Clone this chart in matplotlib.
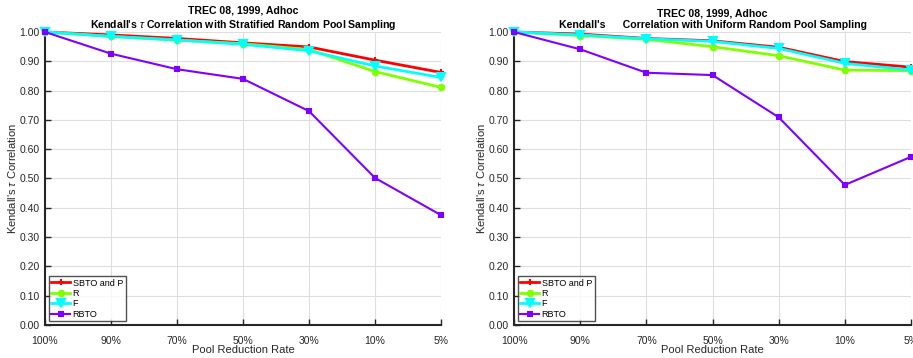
import matplotlib
matplotlib.use("Agg")
import matplotlib.pyplot as plt

plt.rcParams["font.family"] = ["Liberation Sans", "DejaVu Sans"]
plt.rcParams["mathtext.fontset"] = "custom"
plt.rcParams["mathtext.it"] = "Liberation Sans:italic"

rates = ["100%", "90%", "70%", "50%", "30%", "10%", "5%"]
y_ticks = [0.0, 0.1, 0.2, 0.3, 0.4, 0.5, 0.6, 0.7, 0.8, 0.9, 1.0]

# stratified random pool sampling
strat_sbto_p = [1.000, 0.990, 0.978, 0.963, 0.949, 0.904, 0.862]
strat_r = [1.000, 0.985, 0.972, 0.960, 0.940, 0.865, 0.811]
strat_f = [1.000, 0.985, 0.973, 0.958, 0.936, 0.884, 0.845]
strat_rbto = [1.000, 0.926, 0.873, 0.840, 0.730, 0.502, 0.375]

# uniform random pool sampling
unif_sbto_p = [1.000, 0.993, 0.978, 0.970, 0.948, 0.899, 0.880]
unif_r = [1.000, 0.988, 0.975, 0.950, 0.919, 0.870, 0.868]
unif_f = [1.000, 0.990, 0.977, 0.968, 0.944, 0.893, 0.870]
unif_rbto = [1.000, 0.941, 0.861, 0.853, 0.709, 0.478, 0.574]

series_names = ["SBTO and P", "R", "F", "RBTO"]
series_colors = ["#ff0000", "#80ff00", "#00ffff", "#8000ff"]
series_markers = ["+", "o", "v", "s"]
series_msize = [5, 4, 6, 3]
series_lw = [2.0, 2.0, 2.0, 1.5]

fig = plt.figure(figsize=(9.13, 3.58), dpi=100)
ax1 = fig.add_axes([0.0493, 0.0922, 0.4337, 0.8184])
ax2 = fig.add_axes([0.563, 0.0922, 0.4348, 0.8184])

panels = [
    (ax1, [strat_sbto_p, strat_r, strat_f, strat_rbto],
     "TREC 08, 1999, Adhoc\nKendall's $\\tau$ Correlation with Stratified Random Pool Sampling"),
    (ax2, [unif_sbto_p, unif_r, unif_f, unif_rbto],
     "TREC 08, 1999, Adhoc\nKendall's      Correlation with Uniform Random Pool Sampling"),
]

x = list(range(len(rates)))
for ax, data, title in panels:
    for vals, name, col, mk, ms, lw in zip(data, series_names, series_colors,
                                             series_markers, series_msize, series_lw):
        ax.plot(x, vals, color=col, marker=mk, markersize=ms, linewidth=lw,
                markeredgewidth=1.5, label=name, clip_on=False, zorder=3)
    ax.set_xlim(0, len(rates) - 1)
    ax.set_ylim(0, 1)
    ax.set_xticks(x)
    ax.set_xticklabels(rates)
    ax.set_yticks(y_ticks)
    ax.set_yticklabels([f"{v:.2f}" for v in y_ticks])
    ax.grid(True, color="#dedede", linewidth=0.8)
    ax.set_axisbelow(True)
    for side in ["top", "right"]:
        ax.spines[side].set_visible(False)
    for side in ["left", "bottom"]:
        ax.spines[side].set_color("#262626")
        ax.spines[side].set_linewidth(1.5)
    ax.tick_params(direction="in", length=4, width=1, colors="#262626",
                   labelsize=7.5, top=False, right=False)
    ax.tick_params(axis="x", pad=8)
    ax.tick_params(axis="y", pad=4)
    ax.set_title(title, fontsize=7.6, fontweight="bold", pad=3, linespacing=1.2)
    ax.set_xlabel("Pool Reduction Rate", fontsize=8, color="#262626", labelpad=-1)
    ax.set_ylabel("Kendall's $\\tau$ Correlation", fontsize=8, color="#262626", labelpad=1)
    leg = ax.legend(loc="lower left", fontsize=6.5, frameon=True, fancybox=False,
                    edgecolor="#262626", handlelength=2.1, handletextpad=0.25,
                    borderpad=0.3, labelspacing=0.15, borderaxespad=0.4)
    leg.get_frame().set_linewidth(1.0)

fig.savefig("out.png", dpi=100)
